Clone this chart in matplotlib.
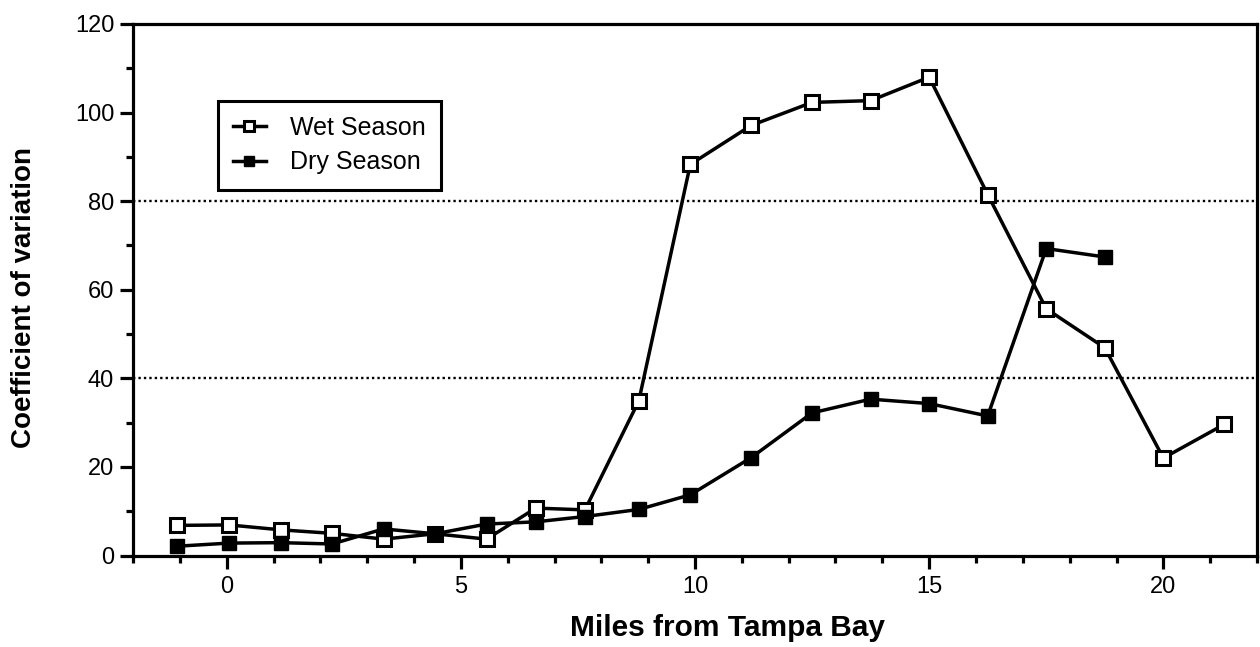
import numpy as np
import matplotlib
matplotlib.use("Agg")
import matplotlib.pyplot as plt
from matplotlib.ticker import MultipleLocator

plt.rcParams['font.family'] = ['Liberation Sans', 'DejaVu Sans']

# distance along river (miles from Tampa Bay)
wet_miles = [-1.05, 0.05, 1.15, 2.25, 3.35, 4.45, 5.55, 6.6, 7.65, 8.8,
             9.9, 11.2, 12.5, 13.75, 15.0, 16.25, 17.5, 18.75, 20.0, 21.3]
wet_cv = [6.8, 6.9, 5.8, 5.0, 3.7, 4.9, 3.7, 10.7, 10.3, 34.9,
          88.3, 97.1, 102.3, 102.7, 108.0, 81.5, 55.7, 46.9, 22.0, 29.6]

dry_miles = [-1.05, 0.05, 1.15, 2.25, 3.35, 4.45, 5.55, 6.6, 7.65, 8.8,
             9.9, 11.2, 12.5, 13.75, 15.0, 16.25, 17.5, 18.75]
dry_cv = [2.1, 2.8, 2.9, 2.6, 6.0, 4.9, 7.1, 7.6, 8.8, 10.4,
          13.7, 22.1, 32.2, 35.3, 34.3, 31.5, 69.3, 67.4]

grid_levels = [40, 80]

W, H = 1260, 647
fig = plt.figure(figsize=(W / 100, H / 100), dpi=100)
# axes box: left 133px, right 1257px, top 24px, bottom 555px
ax = fig.add_axes([133 / W, 1 - 555.5 / H, 1124 / W, 531.5 / H])

for g in grid_levels:
    ax.axhline(g, color='black', linestyle=(0, (1, 1.3)), linewidth=1.7, zorder=1)

ax.plot(wet_miles, wet_cv, color='black', linewidth=2.5, marker='s', markersize=10,
        markerfacecolor='white', markeredgecolor='black', markeredgewidth=2.2,
        label='Wet Season', zorder=3)
ax.plot(dry_miles, dry_cv, color='black', linewidth=2.5, marker='s', markersize=10,
        markerfacecolor='black', markeredgecolor='black',
        label='Dry Season', zorder=3)

ax.set_xlim(-2, 22)
ax.set_ylim(0, 120)
ax.xaxis.set_major_locator(MultipleLocator(5))
ax.xaxis.set_minor_locator(MultipleLocator(1))
ax.yaxis.set_major_locator(MultipleLocator(20))
ax.yaxis.set_minor_locator(MultipleLocator(10))

ax.tick_params(which='major', direction='out', length=9.5, width=2.3, labelsize=17)
ax.tick_params(axis='y', which='major', pad=4)
ax.tick_params(axis='x', which='major', pad=5)
ax.tick_params(which='minor', direction='out', length=5, width=2.3)
for s in ax.spines.values():
    s.set_linewidth(2.3)

ax.set_xlabel('Miles from Tampa Bay', fontsize=21.5, fontweight='bold')
ax.xaxis.set_label_coords((728 - 133) / 1124, (555.5 - 614) / 531.5)
ax.set_ylabel('Coefficient of variation', fontsize=20, fontweight='bold')
ax.yaxis.set_label_coords((37 - 133) / 1124, (555.5 - 297.5) / 531.5)

leg = ax.legend(loc='upper left', bbox_to_anchor=(218 / W, 1 - 101 / H),
                bbox_transform=fig.transFigure, borderaxespad=0, fontsize=18,
                frameon=True, fancybox=False, edgecolor='black', handlelength=1.3,
                borderpad=0.6, labelspacing=0.42, handletextpad=1.0, markerscale=0.75)
leg.get_frame().set_linewidth(2.2)
leg.get_frame().set_alpha(1)

fig.savefig('out.png', dpi=100)
